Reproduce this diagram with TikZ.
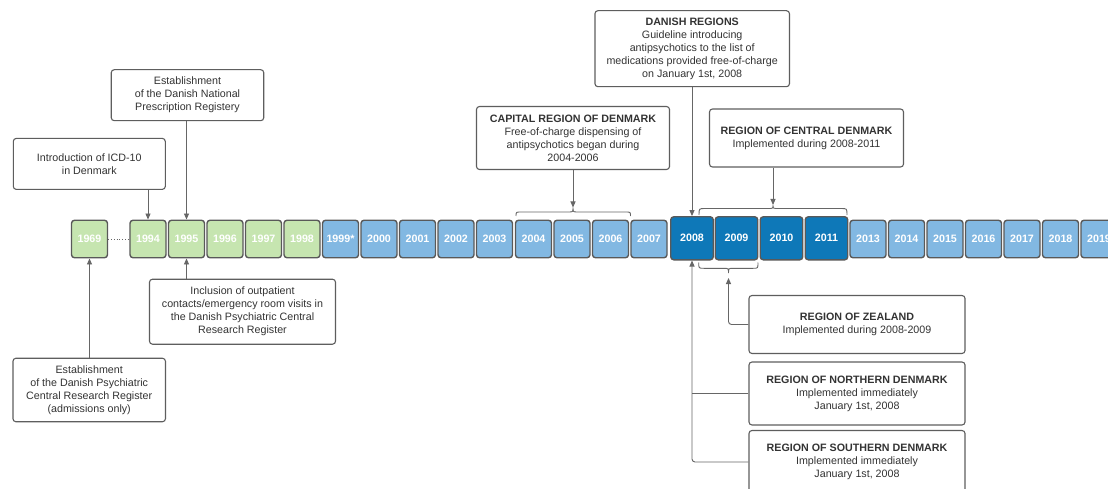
\documentclass[tikz,border=0pt]{standalone}
\usepackage{fontspec}
\setmainfont{Liberation Sans}
\usetikzlibrary{arrows.meta}
\definecolor{yrgreen}{HTML}{C6E5B0}
\definecolor{yrblue}{HTML}{82B8E2}
\definecolor{yrdark}{HTML}{0E78B8}
\definecolor{bordergray}{HTML}{595959}
\definecolor{notegray}{HTML}{5E5E5E}
\definecolor{textgray}{HTML}{333333}
\definecolor{linegray}{HTML}{666666}
\begin{document}
\begin{tikzpicture}[x=1pt,y=1pt,
  yr/.style={draw=bordergray, line width=1.4pt, rounded corners=3pt, minimum width=36pt, minimum height=37.5pt, inner sep=0pt, text=white, font=\fontsize{10.7}{12}\selectfont\bfseries},
  yrg/.style={yr, fill=yrgreen},
  yrs/.style={yr, fill=yrblue},
  yrb/.style={yr, fill=yrdark, minimum width=42.5pt, minimum height=43pt},
  note/.style={draw=notegray, line width=1.1pt, rounded corners=3pt, align=center, inner sep=0pt, text=textgray, font=\fontsize{10.7}{13}\selectfont},
  link/.style={draw=linegray, line width=0.9pt},
  conn/.style={link, -{Triangle[length=6pt,width=5pt]}},
  bracestyle/.style={draw=linegray, line width=0.9pt}
]
\useasboundingbox (0,0) rectangle (1108,-489);
\clip (0,0) rectangle (1108,-489);
\fill[white] (0,0) rectangle (1108,-489);

% year boxes
\node[yrg] (y1969) at (89.5,-239) {1969};
\node[yrg] (y1994) at (148,-239) {1994};
\node[yrg] (y1995) at (186.5,-239) {1995};
\node[yrg] (y1996) at (225,-239) {1996};
\node[yrg] (y1997) at (263.5,-239) {1997};
\node[yrg] (y1998) at (302,-239) {1998};
\node[yrs] (y1999) at (340.5,-239) {1999*};
\node[yrs] (y2000) at (379,-239) {2000};
\node[yrs] (y2001) at (417.5,-239) {2001};
\node[yrs] (y2002) at (456,-239) {2002};
\node[yrs] (y2003) at (494.5,-239) {2003};
\node[yrs] (y2004) at (533.5,-239) {2004};
\node[yrs] (y2005) at (572,-239) {2005};
\node[yrs] (y2006) at (610.5,-239) {2006};
\node[yrs] (y2007) at (649,-239) {2007};
\node[yrb] (y2008) at (692,-238.3) {2008};
\node[yrb] (y2009) at (736.5,-238.3) {2009};
\node[yrb] (y2010) at (781.5,-238.3) {2010};
\node[yrb] (y2011) at (826.5,-238.3) {2011};
\node[yrs] (y2013) at (868,-239) {2013};
\node[yrs] (y2014) at (906.5,-239) {2014};
\node[yrs] (y2015) at (945,-239) {2015};
\node[yrs] (y2016) at (983.5,-239) {2016};
\node[yrs] (y2017) at (1022,-239) {2017};
\node[yrs] (y2018) at (1060.5,-239) {2018};
\node[yrs] (y2019) at (1099,-239) {2019};

\draw[draw=linegray, line width=0.8pt, dotted] (y1969.east) -- (y1994.west);

% notes
\node[note, minimum width=152pt, minimum height=51pt] (icd) at (89.3,-163.9) {Introduction of ICD-10\\in Denmark};
\node[note, minimum width=152.5pt, minimum height=51pt] (npr) at (187.5,-95.2) {Establishment\\of the Danish National\\Prescription Registery};
\node[note, minimum width=186pt, minimum height=65pt] (outp) at (242.5,-311.7) {Inclusion of outpatient\\contacts/emergency room visits in\\the Danish Psychiatric Central\\Research Register};
\node[note, minimum width=152.5pt, minimum height=63.5pt] (pcrr) at (89.2,-390) {Establishment\\of the Danish Psychiatric\\Central Research Register\\(admissions only)};
\node[note, minimum width=194.5pt, minimum height=76pt] (dr) at (692.2,-48.7) {{\bfseries DANISH REGIONS}\\Guideline introducing\\antipsychotics to the list of\\medications provided free-of-charge\\on January 1st, 2008};
\node[note, minimum width=193pt, minimum height=63pt] (cap) at (573,-138) {{\bfseries CAPITAL REGION OF DENMARK}\\Free-of-charge dispensing of\\antipsychotics began during\\2004-2006};
\node[note, minimum width=194pt, minimum height=58pt] (cen) at (806.5,-138) {{\bfseries REGION OF CENTRAL DENMARK}\\Implemented during 2008-2011};
\node[note, minimum width=216pt, minimum height=58pt] (zea) at (857,-324.5) {{\bfseries REGION OF ZEALAND}\\Implemented during 2008-2009};
\node[note, minimum width=216pt, minimum height=63pt] (nor) at (857,-393.5) {{\bfseries REGION OF NORTHERN DENMARK}\\Implemented immediately\\January 1st, 2008};
\node[note, minimum width=216pt, minimum height=63pt] (sou) at (857,-462) {{\bfseries REGION OF SOUTHERN DENMARK}\\Implemented immediately\\January 1st, 2008};

% braces
\draw[bracestyle] (516,-216) .. controls (516,-212) .. (521,-212) -- (568,-212) .. controls (573,-212) .. (573,-207.5) .. controls (573,-212) .. (578,-212) -- (625.5,-212) .. controls (630.5,-212) .. (630.5,-216);
\draw[bracestyle] (699,-215) .. controls (699,-208.5) .. (705,-208.5) -- (768,-208.5) .. controls (773,-208.5) .. (773,-205) .. controls (773,-208.5) .. (778,-208.5) -- (841,-208.5) .. controls (847,-208.5) .. (847,-215);
\draw[bracestyle] (698.7,-262.5) .. controls (698.7,-268.3) .. (704,-268.3) -- (723.5,-268.3) .. controls (728.5,-268.3) .. (728.5,-273) .. controls (728.5,-268.3) .. (733.5,-268.3) -- (753,-268.3) .. controls (758,-268.3) .. (758,-262.5);
\coordinate (b1tip) at (573,-207.5);
\coordinate (b2tip) at (773,-205);
\coordinate (b3tip) at (728.5,-278);

% connectors
\draw[conn] (icd.south -| y1994.north) -- (y1994.north);
\draw[conn] (npr.south -| y1995.north) -- (y1995.north);
\draw[conn] (outp.north -| y1995.south) -- (y1995.south);
\draw[conn] (pcrr.north -| y1969.south) -- (y1969.south);
\draw[conn] (dr.south -| y2008.north) -- (y2008.north);
\draw[conn] (cap.south -| b1tip) -- (b1tip);
\draw[conn] (cen.south -| b2tip) -- (b2tip);
\draw[conn, rounded corners=3pt] (zea.west) -| (b3tip);
\draw[link, rounded corners=3pt] (nor.west) -- (nor.west -| y2008.south);
\draw[conn, rounded corners=3pt] (sou.west) -| (y2008.south);
\end{tikzpicture}
\end{document}
